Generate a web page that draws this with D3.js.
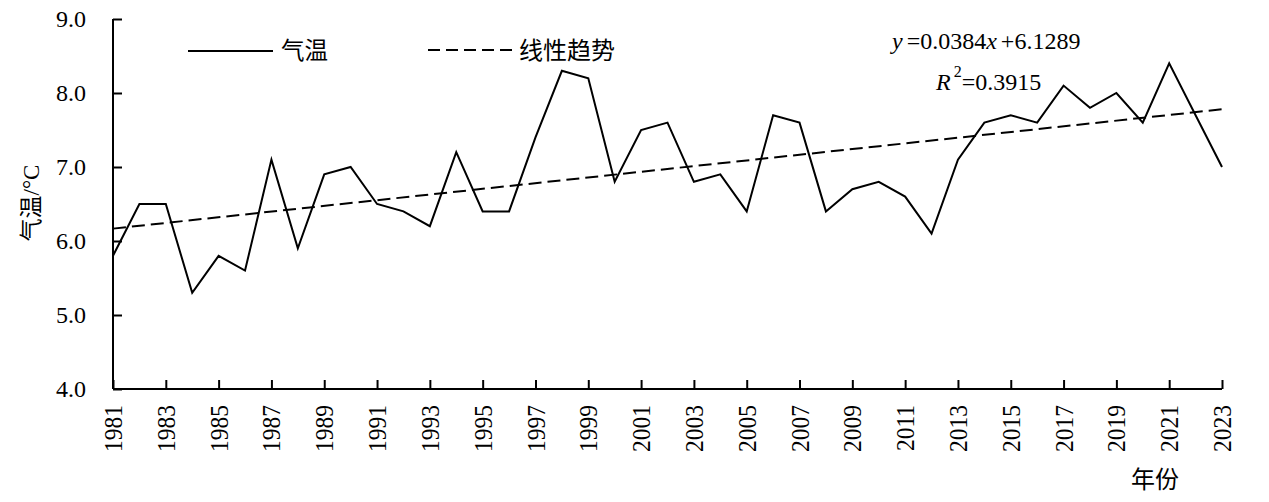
<!DOCTYPE html>
<html>
<head>
<meta charset="utf-8">
<script src="https://cdn.jsdelivr.net/npm/d3@7"></script>
<style>
  html, body { margin: 0; padding: 0; background: #fff; }
  svg { display: block; }
</style>
</head>
<body>
<svg id="chart" width="1269" height="502"></svg>
<script>
// ---- data ----
const years = [1981,1982,1983,1984,1985,1986,1987,1988,1989,1990,
  1991,1992,1993,1994,1995,1996,1997,1998,1999,2000,
  2001,2002,2003,2004,2005,2006,2007,2008,2009,2010,
  2011,2012,2013,2014,2015,2016,2017,2018,2019,2020,
  2021,2022,2023];
const temps = [5.8,6.5,6.5,5.3,5.8,5.6,7.1,5.9,6.9,7.0,
  6.5,6.4,6.2,7.2,6.4,6.4,7.4,8.3,8.2,6.8,
  7.5,7.6,6.8,6.9,6.4,7.7,7.6,6.4,6.7,6.8,
  6.6,6.1,7.1,7.6,7.7,7.6,8.1,7.8,8.0,7.6,
  8.4,7.7,7.0];
const yTicks = [4.0,5.0,6.0,7.0,8.0,9.0];
const xTickYears = [1981,1983,1985,1987,1989,1991,1993,1995,1997,1999,2001,2003,2005,2007,2009,2011,2013,2015,2017,2019,2021,2023];
// linear trend as printed on the chart: y = 0.0384x + 6.1289 (x = year index, 1981 -> 1)
const trendSlope = 0.0384;
const trendIntercept = 6.1289;
const seriesNames = ["气温", "线性趋势"];
const equationText = "=0.0384";
const equationText2 = "+6.1289";
const r2Text = "=0.3915";

// ---- layout ----
const SERIF = '"Liberation Serif", "Times New Roman", "DejaVu Serif", serif';
const CJK = '"Liberation Serif", "Noto Sans CJK SC", serif';
const svg = d3.select("#chart");
const mLeft = 113, mRight = 1222, mTop = 19, mBottom = 389;
const x = d3.scaleLinear().domain([1981, 2023]).range([mLeft, mRight]);
const y = d3.scaleLinear().domain([4, 9]).range([mBottom, mTop]);

// axes
const yAxis = d3.axisLeft(y).tickValues(yTicks).tickSize(-9).tickPadding(28)
  .tickFormat(d3.format(".1f"));
const gy = svg.append("g").attr("transform", `translate(${mLeft},0)`).call(yAxis);
gy.attr("font-family", null).attr("font-size", null);
gy.select(".domain").attr("stroke", "#000").attr("stroke-width", 2).attr("d", `M0,${mTop}V${mBottom}`);
gy.selectAll(".tick line").attr("stroke", "#000").attr("stroke-width", 2);
gy.selectAll(".tick text").style("font-family", SERIF).style("font-size", "24px").attr("fill", "#000")
  .attr("text-anchor", "end").attr("x", -27).attr("dy", "0.33em");

const xAxis = d3.axisBottom(x).tickValues(xTickYears).tickSize(-9).tickFormat(d3.format("d"));
const gx = svg.append("g").attr("transform", `translate(0,${mBottom})`).call(xAxis);
gx.attr("font-family", null).attr("font-size", null);
gx.select(".domain").attr("stroke", "#000").attr("stroke-width", 2).attr("d", `M${mLeft},0H${mRight}`);
gx.selectAll(".tick line").attr("stroke", "#000").attr("stroke-width", 2);
gx.selectAll(".tick text").style("font-family", SERIF).style("font-size", "23.5px").attr("fill", "#000")
  .attr("text-anchor", "end")
  .attr("transform", "rotate(-90) scale(1,1.1)")
  .attr("x", -16).attr("y", 0).attr("dy", "0.33em");

// data line
const line = d3.line().x((d, i) => x(years[i])).y(d => y(d));
svg.append("path").datum(temps).attr("d", line)
  .attr("fill", "none").attr("stroke", "#000").attr("stroke-width", 2).attr("stroke-linejoin", "miter");

// trend line
const trendEnds = [years[0], years[years.length - 1]];
const tline = d3.line().x(d => x(d)).y(d => y(trendIntercept + trendSlope * (d - years[0] + 1)));
svg.append("path").datum(trendEnds).attr("d", tline)
  .attr("fill", "none").attr("stroke", "#000").attr("stroke-width", 2).attr("stroke-dasharray", "13,6");

// legend
const lg = svg.append("g");
lg.append("line").attr("x1", 188).attr("x2", 273).attr("y1", 51).attr("y2", 51)
  .attr("stroke", "#000").attr("stroke-width", 2);
lg.append("text").style("font-family", CJK).style("font-size", "23.5px").attr("x", 281).attr("y", 51).attr("dy", "0.36em")
  .text(seriesNames[0]);
lg.append("line").attr("x1", 428).attr("x2", 512).attr("y1", 50).attr("y2", 50)
  .attr("stroke", "#000").attr("stroke-width", 2).attr("stroke-dasharray", "12,6");
lg.append("text").style("font-family", CJK).style("font-size", "24px").attr("x", 519).attr("y", 50).attr("dy", "0.36em")
  .text(seriesNames[1]);

// equation
const eq = svg.append("text").style("font-family", SERIF).style("font-size", "24px").attr("x", 892).attr("y", 49);
eq.append("tspan").attr("font-style", "italic").text("y");
eq.append("tspan").attr("dx", 4).text(equationText);
eq.append("tspan").attr("font-style", "italic").text("x");
eq.append("tspan").attr("dx", 4).text(equationText2);

const r2 = svg.append("text").style("font-family", SERIF).style("font-size", "24px").attr("x", 936).attr("y", 90);
r2.append("tspan").attr("font-style", "italic").text("R");
r2.append("tspan").attr("dx", 3).attr("dy", -13).style("font-size", "16px").text("2");
r2.append("tspan").attr("dy", 13).text(r2Text);

// axis titles
svg.append("text").style("font-family", CJK).style("font-size", "23px")
  .attr("transform", "translate(31,203) rotate(-90)")
  .attr("text-anchor", "middle").attr("dy", "0.35em").text("气温/°C");
svg.append("text").style("font-family", CJK).style("font-size", "24px")
  .attr("x", 1131).attr("y", 480).attr("dy", "0.35em").text("年份");
</script>
</body>
</html>
